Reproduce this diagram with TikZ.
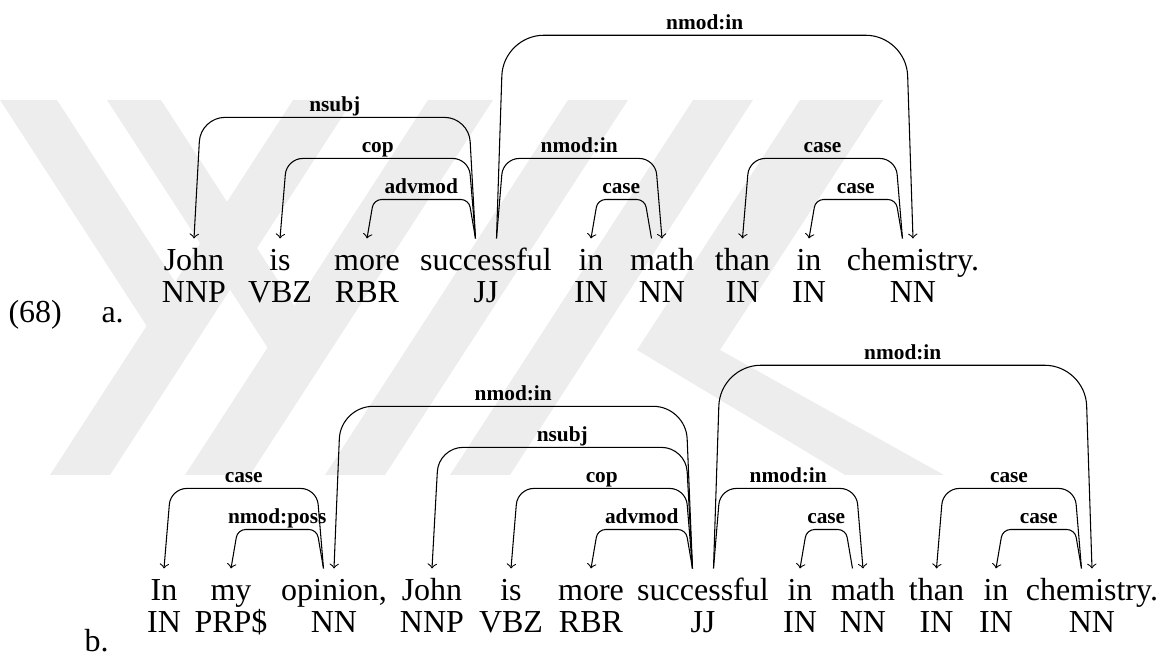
\documentclass[tikz,border=0pt]{standalone}
\usepackage{fontspec}
\setmainfont{Liberation Serif}
\usetikzlibrary{positioning}
\usetikzlibrary{calc}

% dependency arc: head, offset at head, dependent, level, label
\newcommand{\deparc}[5]{%
  \draw[dep, rounded corners={0.2*(14.6pt+15.4pt*(#4-1))}]
    let \p1 = ($(#1.north)+(#2,0)$), \p2 = (#3.north),
        \n1 = {sign(\x2-\x1)}, \n2 = {14.6pt+15.4pt*(#4-1)} in
    (\p1) -- (\x1+\n1*2.5pt, \y1+\n2)
    -- node[lbl, midway] {#5} (\x2-\n1*2.5pt, \y1+\n2) -- (\p2);
}

\begin{document}
\begin{tikzpicture}[
        x=0.375pt, y=-0.375pt,
        txt/.style = {inner sep=0pt, font=\fontsize{12}{14}\selectfont},
        word/.style = {txt, anchor=base, text height=12pt, text depth=2.6pt},
        tag/.style = {txt, node distance=0.5pt, text height=8.5pt, text depth=2.6pt},
        lbl/.style = {inner sep=0pt, anchor=base, yshift=2.25pt, font=\fontsize{8}{9}\selectfont\bfseries},
        dep/.style = {->},
        stripe/.style = {fill=black!7}
    ]

        \useasboundingbox (0,0) rectangle (1174,657);

        % watermark
        \fill[stripe] (293,100) -- (353,100) -- (110,475) -- (50,475) -- cycle;
        \fill[stripe] (428,100) -- (493,100) -- (250,475) -- (185,475) -- cycle;
        \fill[stripe] (568,100) -- (628,100) -- (385,475) -- (325,475) -- cycle;
        \fill[stripe] (693,100) -- (753,100) -- (510,475) -- (450,475) -- cycle;
        \fill[stripe] (0,100) -- (57,100) -- (205,328) -- (148,328) -- cycle;
        \fill[stripe] (107,100) -- (161,100) -- (327,356) -- (273,356) -- cycle;
        \fill[stripe] (800,100) -- (883,100) -- (720,350) -- (637,350) -- cycle;
        \fill[stripe] (637,350) -- (720,350) -- (944,475) -- (845,475) -- cycle;

        % (68a)
        \node[txt, anchor=base west] (ex) at (8,323) {(68)};
        \node[txt, anchor=base west] (exa) at (101,323) {a.};

        \node[word] (a1) at (194,271) {John};
        \node[word] (a2) at (280,271) {is};
        \node[word] (a3) at (367,271) {more};
        \node[word] (a4) at (486,271) {successful};
        \node[word] (a5) at (591,271) {in};
        \node[word] (a6) at (662,271) {math};
        \node[word] (a7) at (742.5,271) {than};
        \node[word] (a8) at (809,271) {in};
        \node[word] (a9) at (913,271) {chemistry.};

        \node[tag, below=of a1] (ta1) {NNP};
        \node[tag, below=of a2] (ta2) {VBZ};
        \node[tag, below=of a3] (ta3) {RBR};
        \node[tag, below=of a4] (ta4) {JJ};
        \node[tag, below=of a5] (ta5) {IN};
        \node[tag, below=of a6] (ta6) {NN};
        \node[tag, below=of a7] (ta7) {IN};
        \node[tag, below=of a8] (ta8) {IN};
        \node[tag, below=of a9] (ta9) {NN};

        \deparc{a4}{-10.5}{a1}{3}{nsubj}
        \deparc{a4}{-10.5}{a2}{2}{cop}
        \deparc{a4}{-10.5}{a3}{1}{advmod}
        \deparc{a4}{10.5}{a9}{5}{nmod:in}
        \deparc{a4}{10.5}{a6}{2}{nmod:in}
        \deparc{a6}{-10.5}{a5}{1}{case}
        \deparc{a9}{-10.5}{a7}{2}{case}
        \deparc{a9}{-10.5}{a8}{1}{case}

        % (68b)
        \node[txt, anchor=base west] (exb) at (84,652) {b.};

        \node[word] (b1) at (164,601) {In};
        \node[word] (b2) at (231,601) {my};
        \node[word] (b3) at (334,601) {opinion,};
        \node[word] (b4) at (432,601) {John};
        \node[word] (b5) at (511,601) {is};
        \node[word] (b6) at (591,601) {more};
        \node[word] (b7) at (703,601) {successful};
        \node[word] (b8) at (800,601) {in};
        \node[word] (b9) at (863,601) {math};
        \node[word] (b10) at (936.5,601) {than};
        \node[word] (b11) at (996,601) {in};
        \node[word] (b12) at (1092,601) {chemistry.};

        \node[tag, below=of b1] (tb1) {IN};
        \node[tag, below=of b2] (tb2) {PRP\$};
        \node[tag, below=of b3] (tb3) {NN};
        \node[tag, below=of b4] (tb4) {NNP};
        \node[tag, below=of b5] (tb5) {VBZ};
        \node[tag, below=of b6] (tb6) {RBR};
        \node[tag, below=of b7] (tb7) {JJ};
        \node[tag, below=of b8] (tb8) {IN};
        \node[tag, below=of b9] (tb9) {NN};
        \node[tag, below=of b10] (tb10) {IN};
        \node[tag, below=of b11] (tb11) {IN};
        \node[tag, below=of b12] (tb12) {NN};

        \deparc{b3}{-10.5}{b1}{2}{case}
        \deparc{b3}{-10.5}{b2}{1}{nmod:poss}
        \deparc{b7}{-10.5}{b3}{4}{nmod:in}
        \deparc{b7}{-10.5}{b4}{3}{nsubj}
        \deparc{b7}{-10.5}{b5}{2}{cop}
        \deparc{b7}{-10.5}{b6}{1}{advmod}
        \deparc{b7}{10.5}{b12}{5}{nmod:in}
        \deparc{b7}{10.5}{b9}{2}{nmod:in}
        \deparc{b9}{-10.5}{b8}{1}{case}
        \deparc{b12}{-10.5}{b10}{2}{case}
        \deparc{b12}{-10.5}{b11}{1}{case}

    \end{tikzpicture}
\end{document}
